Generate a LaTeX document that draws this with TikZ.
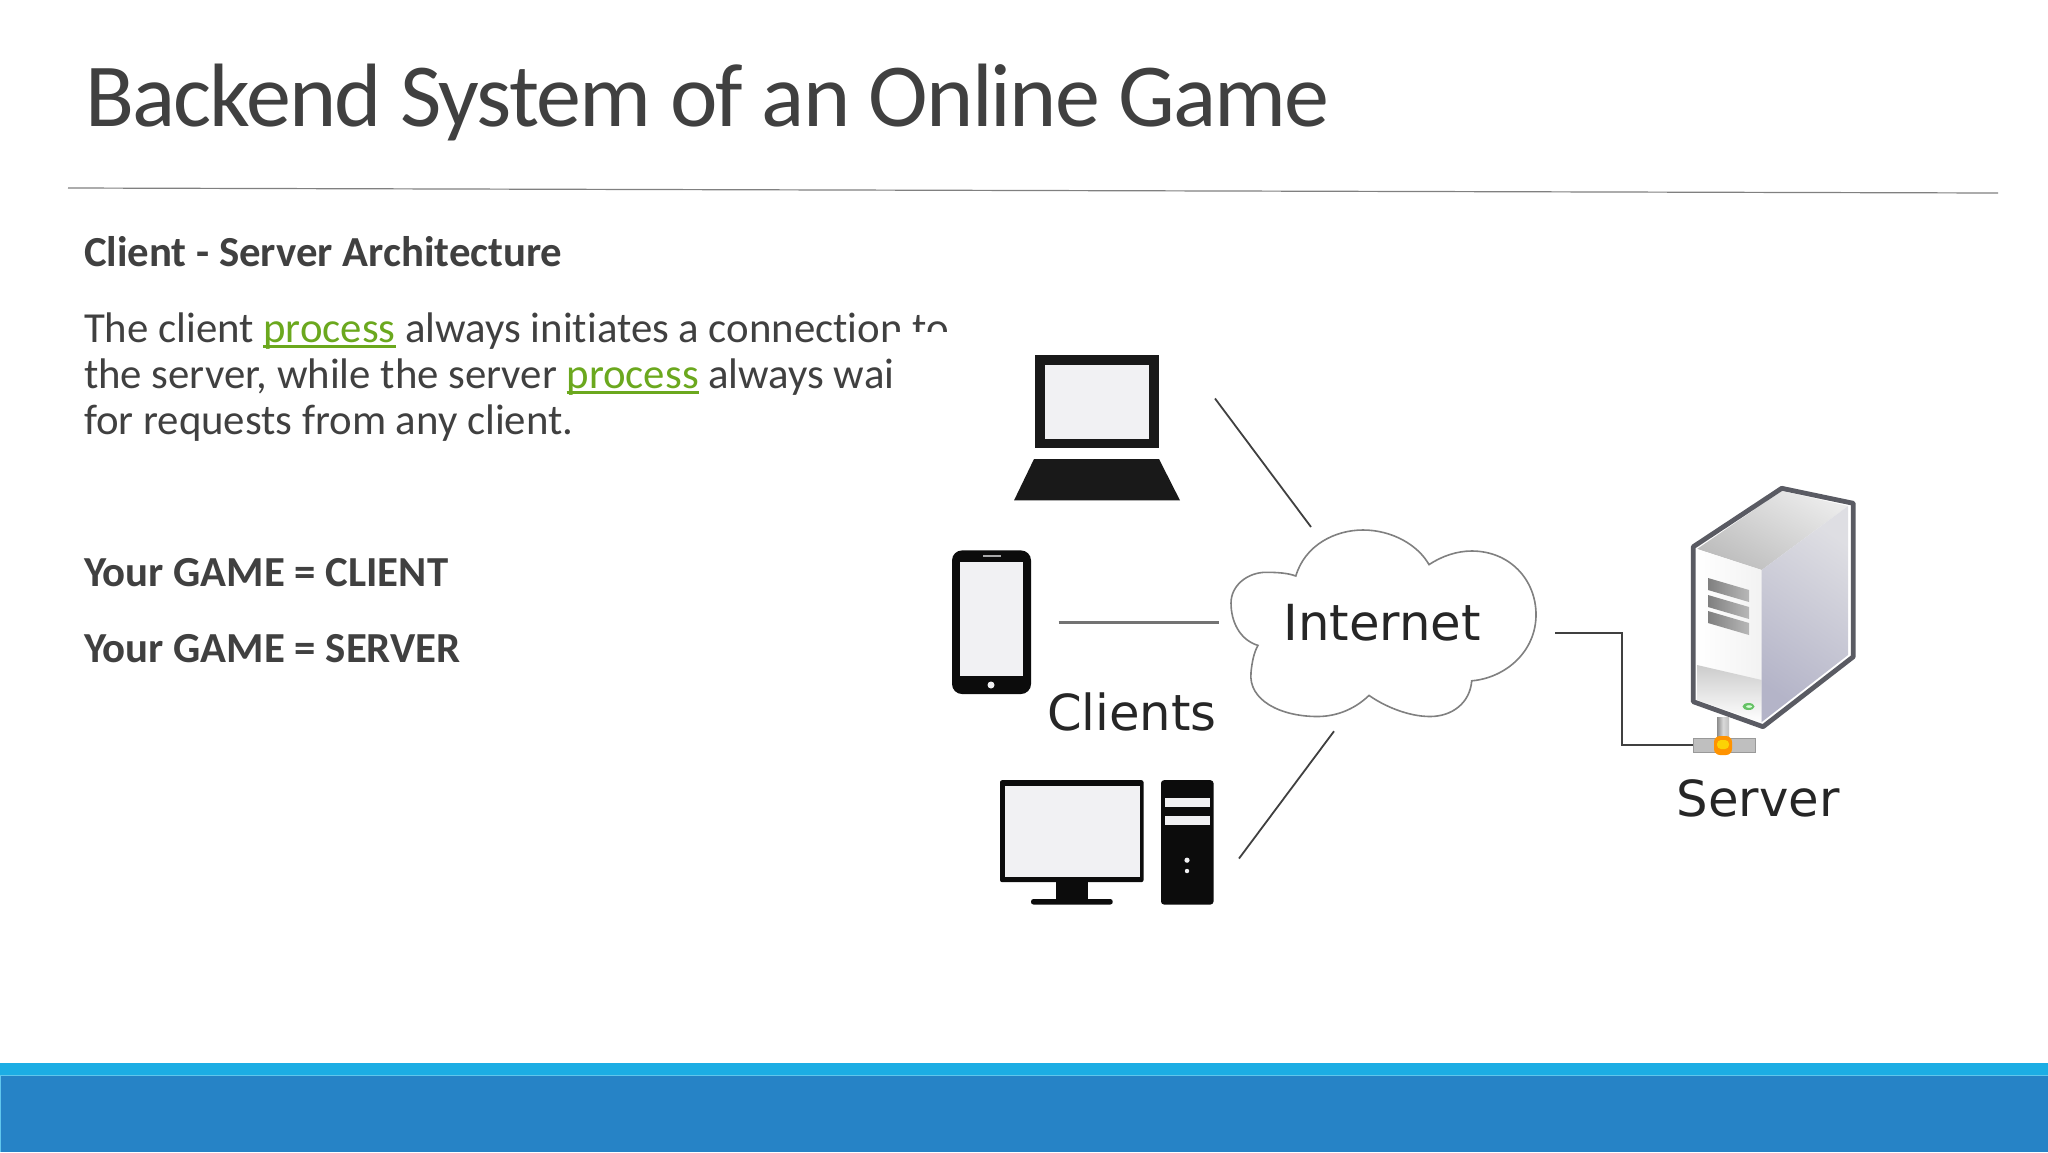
\documentclass[tikz,border=0pt]{standalone}
\usepackage{fontspec}
\usetikzlibrary{calc}
\setmainfont[Ligatures=NoCommon]{Carlito}
\newfontfamily\djv{DejaVu Sans}
\definecolor{ink}{HTML}{404040}
\definecolor{linkg}{HTML}{6BA81E}
\definecolor{band}{HTML}{1CADE4}
\definecolor{foot}{HTML}{2683C6}
\definecolor{scr}{HTML}{F1F1F3}
\definecolor{dev}{HTML}{0C0C0C}
\definecolor{srvline}{HTML}{5A5B63}
\definecolor{sideA}{HTML}{B4B4C8}
\definecolor{sideB}{HTML}{DEDEE3}
\newsavebox{\lnkbox}
\newcommand{\lnk}[1]{\sbox{\lnkbox}{#1}\textcolor{linkg}{\rlap{\rule[-2.9pt]{\wd\lnkbox}{1.2pt}}#1}}
\tikzset{
  every node/.style={inner sep=0pt,outer sep=0pt},
  body/.style={anchor=base west,text=ink,font=\fontsize{21.4}{24}\selectfont},
  bodyb/.style={body,font=\fontsize{21.4}{24}\selectfont\bfseries},
  lab/.style={anchor=base west,text=black!85,font=\djv\fontsize{24.85}{28}\selectfont},
  wire/.style={draw=black!75,line width=0.9pt},
}
\begin{document}
\begin{tikzpicture}[x=0.5pt,y=-0.5pt]
\useasboundingbox (0,0) rectangle (2048,1152);
\fill[white] (0,0) rectangle (2048,1152);
% title and rule
\node[anchor=base west,text=ink,font=\fontsize{45}{50}\selectfont\addfontfeatures{LetterSpace=-2}] (title) at (85,126) {Backend System of an Online Game};
\coordinate (ruleL) at (68,188);
\coordinate (ruleR) at (1998,193);
\draw[draw=black!50,line width=0.6pt] (ruleL) -- (ruleR);
% text
\node[bodyb] (head) at (84,266) {Client - Server Architecture};
\node[body] (l1) at (84,342) {The client \lnk{process} always initiates a connection to};
\node[body] (l2) at (84,388) {the server, while the server \lnk{process} always wait};
\node[body] (l3) at (84,434) {for requests from any client.};
\node[bodyb] (g1) at (84,586) {Your GAME = CLIENT};
\node[bodyb] (g2) at (84,662) {Your GAME = SERVER};
% white picture covering text
\fill[white] (893,332) rectangle (1960,960);
% footer
\fill[band] (0,1063) rectangle (2048,1075);
\fill[foot] (0,1075) rectangle (2048,1152);
\draw[draw=band!70!white,line width=0.5pt] (0.5,1152) -- (0.5,1075.5) -- (2048,1075.5);
% laptop
\fill[black!90] (1035,355) rectangle (1159,448);
\fill[scr] (1045,364.6) rectangle (1149,438.5);
\fill[black!90] (1034,459) -- (1159,459) -- (1180,500.4) -- (1014,500.4) -- cycle;
\coordinate (lapc) at (1215,398.5);
% phone
\fill[dev,rounded corners=5pt] (952,550.4) rectangle (1031,694);
\fill[scr] (960,561.5) rectangle (1023,675.5);
\fill[scr!70!black] (983,555) rectangle (1001,557);
\fill[scr] (991,685) circle[radius=3.5];
\coordinate (phc) at (1058.5,622.5);
% desktop
\fill[dev,rounded corners=1pt] (1000,780.2) rectangle (1143.5,882.1);
\fill[scr] (1005,786) rectangle (1139.6,876.5);
\fill[dev] (1056,882.1) rectangle (1088,900.5);
\fill[dev,rounded corners=1.2pt] (1031,899) rectangle (1112.7,904.5);
\fill[dev,rounded corners=1.5pt] (1161,780.2) rectangle (1213.5,904.5);
\fill[scr] (1165,797.5) rectangle (1209.6,807.1);
\fill[scr] (1165,816) rectangle (1209.6,824.5);
\fill[scr] (1187,860.2) circle[radius=2.6];
\fill[scr] (1187,871) circle[radius=2.2];
\coordinate (dkc) at (1239,858.5);
% cloud
\draw[draw=black!50,line width=0.8pt,fill=white]
 (1295.8,576) .. controls (1305,545) and (1335,530) .. (1363,530)
 .. controls (1392,530) and (1418,545) .. (1429,564.6)
 .. controls (1442,556) and (1457,551) .. (1471.7,551)
 .. controls (1510,551) and (1536,580) .. (1536,614.6)
 .. controls (1536,652) and (1505,678) .. (1471.7,680.8)
 .. controls (1470,703) and (1452,716.5) .. (1430,716.5)
 .. controls (1408,716.5) and (1384,706) .. (1369,695.4)
 .. controls (1356,708) and (1338,716.5) .. (1317.5,716.5)
 .. controls (1280,716.5) and (1248,700) .. (1251,672.3)
 .. controls (1252,662) and (1254,652) .. (1258,645.4)
 .. controls (1240,640) and (1231,622) .. (1231,603)
 .. controls (1231,585) and (1248,572.3) .. (1266,572.3)
 .. controls (1277,572.3) and (1288,573) .. (1295.8,576)
 -- cycle;
\node[lab] (inet) at (1283.5,640) {Internet};
\coordinate (cl1) at (1311,527);
\coordinate (cl2) at (1219,622.5);
\coordinate (cl3) at (1334,731.2);
\coordinate (cl4) at (1555,633.3);
\node[lab] (clients) at (1047,730) {Clients};
\draw[wire] (lapc) -- (cl1);
\draw[draw=black!55,line width=1.3pt] (phc) -- (cl2);
\draw[wire] (dkc) -- (cl3);
% server
\shade[top color=white!92!black,bottom color=white!74!black,shading angle=-30] (1697,549) -- (1781.7,491) -- (1848,506) -- (1761.7,570) -- cycle;
\shade[left color=white,right color=white!95!black] (1697,549) -- (1761.7,570) -- (1761.7,722) -- (1697,700) -- cycle;
\shade[top color=white!80!black,bottom color=white] (1697,665) -- (1761.7,680) -- (1761.7,722) -- (1697,700) -- cycle;
\shade[top color=sideB,bottom color=sideA,shading angle=-35] (1761.7,570) -- (1848,506) -- (1848,655) -- (1761.7,722) -- cycle;
\draw[draw=srvline,line width=2.4pt,line join=round] (1693.3,546.7) -- (1781.7,488.3) -- (1853.3,503.3) -- (1853.3,656.7) -- (1763,726.7) -- (1693.3,701.7) -- cycle;
\foreach \yy in {578,595,611}
  \shade[left color=black!50,right color=black!28] (1708,\yy) -- (1749,\yy+12) -- (1749,\yy+24) -- (1708,\yy+12) -- cycle;
\fill[green!60!black!60] (1748.5,706.5) ellipse[x radius=6,y radius=3.5];
\fill[white!85!green] (1749,706.5) ellipse[x radius=3,y radius=1.3];
% network T
\shade[left color=black!45,right color=black!25,middle color=white!85!black] (1717,717) rectangle (1729,742);
\draw[draw=black!40,line width=0.5pt,fill=white!75!black] (1693,738) rectangle (1755,752);
\fill[orange!85!yellow,rounded corners=3pt] (1714,736) rectangle (1732,755);
\fill[yellow!70!orange,rounded corners=2pt] (1717,740) rectangle (1729,749);
\coordinate (tleft) at (1693,745);
\coordinate (bendA) at (1621.7,633.3);
\coordinate (bendB) at (1621.7,745);
\draw[wire] (cl4) -- (bendA) -- (bendB) -- (tleft);
\node[lab] (srv) at (1676.5,816) {Server};
\end{tikzpicture}
\end{document}
